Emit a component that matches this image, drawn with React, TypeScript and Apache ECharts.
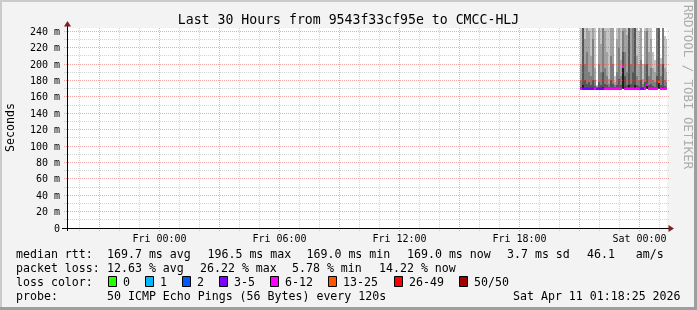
import React, { useEffect, useRef } from "react";
import * as echarts from "echarts";

// ---------- data ----------
const titleText = "Last 30 Hours from 9543f33cf95e to CMCC-HLJ";
// x axis in hours since Thu 00:00
const xMin = 19.375;
const xMax = 49.375;
const yMin = 0;
const yMax = 244;

const xLabelHours = [24, 30, 36, 42, 48];
const xLabelTexts = ["Fri 00:00", "Fri 06:00", "Fri 12:00", "Fri 18:00", "Sat 00:00"];
const xMajorHours = [21, 24, 27, 30, 33, 36, 39, 42, 45, 48];
const xMinorHours = [20, 22, 23, 25, 26, 28, 29, 31, 32, 34, 35, 37, 38, 40, 41, 43, 44, 46, 47, 49];
const yMajorMs = [0, 20, 40, 60, 80, 100, 120, 140, 160, 180, 200, 220, 240];
const yMinorMs = [10, 30, 50, 70, 90, 110, 130, 150, 170, 190, 210, 230];

// 6-minute samples (hours since Thu 00:00)
const sampleHours = [
  45.0, 45.1, 45.2, 45.3, 45.4, 45.5, 45.6, 45.7, 45.8, 45.9,
  46.0, 46.1, 46.2, 46.3, 46.4, 46.5, 46.6, 46.7, 46.8, 46.9,
  47.0, 47.1, 47.2, 47.3, 47.4, 47.5, 47.6, 47.7, 47.8, 47.9,
  48.0, 48.1, 48.2, 48.3, 48.4, 48.5, 48.6, 48.7, 48.8, 48.9,
  49.0, 49.1, 49.2, 49.3,
];
const medianMs = [
  169.4, 169.3, 169.4, 169.3, 169.5, 169.3, 169.4, 169.3, 169.2, 169.4,
  169.3, 169.5, 169.4, 169.3, 169.2, 169.4, 169.3, 169.2, 169.4, 169.5,
  169.3, 196.5, 169.6, 169.4, 169.8, 169.3, 169.5, 169.7, 169.3, 169.2,
  169.4, 169.2, 169.3, 174.0, 169.4, 169.3, 169.2, 169.2, 169.5, 178.0,
  169.3, 169.6, 169.2, 169.0,
];
const lostPings = [
  7, 4, 4, 3, 5, 4, 3, 8, 4, 5,
  4, 3, 7, 6, 8, 7, 9, 6, 7, 8,
  6, 7, 9, 8, 7, 6, 8, 7, 6, 9,
  4, 5, 8, 7, 6, 8, 7, 9, 10, 13,
  7, 8, 6, 7,
];
const pingMin = [
  169.0, 169.0, 169.0, 169.0, 169.0, 169.0, 169.0, 169.0, 169.0, 169.0,
  169.0, 169.0, 169.0, 169.0, 169.0, 169.0, 169.0, 169.0, 169.0, 169.0,
  169.0, 169.0, 169.0, 169.0, 169.0, 169.0, 169.0, 169.0, 169.0, 169.0,
  169.0, 169.0, 169.0, 169.0, 169.0, 169.0, 169.0, 169.0, 169.0, 169.0,
  169.0, 169.0, 169.0, 169.0,
];
const smokeP0 = [
  170, 175, 171, 170, 171, 170, 170, 170, 170, 171,
  170, 172, 170, 170, 170, 171, 170, 170, 170, 171,
  170, 198, 172, 170, 175, 170, 171, 174, 170, 170,
  171, 170, 170, 176, 170, 170, 170, 170, 171, 180,
  170, 172, 170, 170,
];
const smokeP1 = [
  172, 250, 180, 176, 178, 174, 180, 173, 171, 178,
  175, 190, 176, 174, 172, 180, 176, 172, 175, 182,
  174, 215, 185, 175, 250, 176, 190, 250, 175, 173,
  180, 172, 178, 200, 174, 176, 173, 172, 185, 250,
  174, 200, 173, 172,
];
const smokeP2 = [
  180, 250, 200, 215, 190, 185, 230, 180, 172, 200,
  190, 250, 195, 185, 176, 210, 200, 174, 190, 220,
  185, 240, 215, 190, 250, 200, 250, 250, 185, 180,
  205, 176, 200, 240, 185, 195, 180, 178, 250, 250,
  185, 250, 180, 178,
];
const smokeP3 = [
  200, 250, 230, 250, 240, 210, 250, 195, 173, 250,
  225, 260, 240, 215, 182, 250, 250, 178, 230, 250,
  205, 250, 250, 235, 260, 250, 260, 260, 210, 200,
  250, 182, 240, 250, 215, 230, 195, 190, 260, 260,
  200, 260, 195, 190,
];
const smokeMax = [
  250, 260, 250, 260, 260, 250, 260, 250, 175, 260,
  250, 260, 250, 250, 250, 260, 250, 185, 250, 260,
  250, 260, 260, 250, 260, 250, 260, 260, 250, 240,
  260, 200, 250, 260, 245, 250, 215, 205, 260, 260,
  208, 260, 234, 230,
];

const lossColors = ["#26ff00", "#00b8ff", "#0059ff", "#7e00ff", "#ff00ff", "#ff5500", "#ff0000", "#a00000"];
const lossLabels = ["0", "1", "2", "3-5", "6-12", "13-25", "26-49", "50/50"];
const lossUpper = [0, 1, 2, 5, 12, 25, 49, 50];

const rttStats = ["169.7 ms avg", "196.5 ms max", "169.0 ms min", "169.0 ms now", "3.7 ms sd", "46.1   am/s"];
const lossStats = ["12.63 % avg", "26.22 % max", "5.78 % min", "14.22 % now"];
const probeText = "50 ICMP Echo Pings (56 Bytes) every 120s";
const dateText = "Sat Apr 11 01:18:25 2026";

// ---------- layout / style ----------
const W = 697;
const H = 310;
const MONO = "DejaVu Sans Mono";
const smokeColors = ["#1e1e1e", "#555555", "#7e7e7e", "#a2a2a2", "#c4c4c4"];
const rttX = [107, 207.5, 306.5, 407, 507, 587];
const lossX = [107, 200, 292, 379];
const boxX = [108, 145, 182, 219, 270, 328, 394, 459];

function lossColor(n: number) {
  for (let k = 0; k < lossUpper.length; k++) if (n <= lossUpper[k]) return lossColors[k];
  return lossColors[lossColors.length - 1];
}

export default function App() {
  const ref = useRef<HTMLDivElement>(null);
  useEffect(() => {
    if (!ref.current) return;
    const chart = echarts.init(ref.current, undefined, { renderer: "svg" });

    const legendFont = `11.6px "${MONO}"`;
    const graphics: any[] = [];
    // background + frame
    graphics.push({ type: "rect", z: -10, shape: { x: 0, y: 0, width: W, height: H }, style: { fill: "#F3F3F3" }, silent: true });
    graphics.push({ type: "rect", z: -9, shape: { x: 0, y: 0, width: W, height: 2 }, style: { fill: "#CBCBCB" } });
    graphics.push({ type: "rect", z: -9, shape: { x: 0, y: 0, width: 2, height: H }, style: { fill: "#CBCBCB" } });
    graphics.push({ type: "rect", z: -9, shape: { x: W - 3, y: 0, width: 3, height: H }, style: { fill: "#9E9E9E" } });
    graphics.push({ type: "rect", z: -9, shape: { x: 0, y: H - 3, width: W, height: 3 }, style: { fill: "#9E9E9E" } });
    // canvas
    graphics.push({ type: "rect", z: -8, shape: { x: 67, y: 28, width: 600, height: 200 }, style: { fill: "#FFFFFF" } });
    // title
    graphics.push({ type: "text", x: W / 2, y: 19, style: { text: titleText, font: `13.2px "${MONO}"`, fill: "#000", align: "center", verticalAlign: "middle" } });
    // y name
    graphics.push({ type: "text", x: 10, y: 127.5, rotation: Math.PI / 2, style: { text: "Seconds", font: legendFont, fill: "#000", align: "center", verticalAlign: "middle" } });
    // watermark
    graphics.push({ type: "text", x: 688, y: 5, rotation: -Math.PI / 2, style: { text: "RRDTOOL / TOBI OETIKER", font: `12.4px "${MONO}"`, fill: "#ACACAC", align: "left", verticalAlign: "middle" } });
    // axis extensions + arrows
    graphics.push({ type: "line", z: 20, shape: { x1: 62, y1: 228.5, x2: 669, y2: 228.5 }, style: { stroke: "#000", lineWidth: 1 } });
    graphics.push({ type: "line", z: 20, shape: { x1: 67.5, y1: 231, x2: 67.5, y2: 26 }, style: { stroke: "#000", lineWidth: 1 } });
    graphics.push({ type: "polygon", z: 21, shape: { points: [[64, 26.5], [71, 26.5], [67.5, 21]] }, style: { fill: "#7F1F1F" } });
    graphics.push({ type: "polygon", z: 21, shape: { points: [[668.5, 225], [668.5, 232], [674, 228.5]] }, style: { fill: "#7F1F1F" } });

    // legend rows
    const rows = [254, 268, 282, 296];
    graphics.push({ type: "text", x: 16, y: rows[0], style: { text: "median rtt:", font: legendFont, fill: "#000", verticalAlign: "middle" } });
    rttStats.forEach((s, i) => graphics.push({ type: "text", x: rttX[i], y: rows[0], style: { text: s, font: legendFont, fill: "#000", verticalAlign: "middle" } }));
    graphics.push({ type: "text", x: 16, y: rows[1], style: { text: "packet loss:", font: legendFont, fill: "#000", verticalAlign: "middle" } });
    lossStats.forEach((s, i) => graphics.push({ type: "text", x: lossX[i], y: rows[1], style: { text: s, font: legendFont, fill: "#000", verticalAlign: "middle" } }));
    graphics.push({ type: "text", x: 16, y: rows[2], style: { text: "loss color:", font: legendFont, fill: "#000", verticalAlign: "middle" } });
    lossLabels.forEach((s, i) => {
      graphics.push({ type: "rect", shape: { x: boxX[i] + 0.5, y: rows[2] - 5.5, width: 8, height: 10 }, style: { fill: lossColors[i], stroke: "#000", lineWidth: 1 } });
      graphics.push({ type: "text", x: boxX[i] + 15, y: rows[2], style: { text: s, font: legendFont, fill: "#000", verticalAlign: "middle" } });
    });
    graphics.push({ type: "text", x: 16, y: rows[3], style: { text: "probe:", font: legendFont, fill: "#000", verticalAlign: "middle" } });
    graphics.push({ type: "text", x: 107, y: rows[3], style: { text: probeText, font: legendFont, fill: "#000", verticalAlign: "middle" } });
    graphics.push({ type: "text", x: 513, y: rows[3], style: { text: dateText, font: legendFont, fill: "#000", verticalAlign: "middle" } });

    const smokeData = sampleHours.map((h, i) => [h, pingMin[i], smokeP0[i], smokeP1[i], smokeP2[i], smokeP3[i], smokeMax[i]]);
    const medianData = sampleHours.map((h, i) => [h, medianMs[i], lostPings[i]]);
    const gridData: number[][] = [];
    xMinorHours.forEach((h) => gridData.push([h, 0, 0]));
    yMinorMs.forEach((v) => gridData.push([xMin, v, 1]));
    xMajorHours.forEach((h) => gridData.push([h, 0, 2]));
    yMajorMs.forEach((v) => { if (v > 0) gridData.push([xMin, v, 3]); });

    const option: any = {
      animation: false,
      backgroundColor: "transparent",
      grid: { left: 67, top: 28, width: 600, height: 200, outerBoundsMode: "none" },
      xAxis: {
        type: "value", min: xMin, max: xMax,
        axisLine: { show: false }, axisTick: { show: false }, splitLine: { show: false },
        axisLabel: {
          customValues: xLabelHours, margin: 5, fontFamily: MONO, fontSize: 10, color: "#000",
          formatter: (v: number) => { const k = xLabelHours.indexOf(Math.round(v)); return k >= 0 ? xLabelTexts[k] : ""; },
        },
      },
      yAxis: {
        type: "value", min: yMin, max: yMax,
        axisLine: { show: false }, axisTick: { show: false }, splitLine: { show: false },
        axisLabel: {
          customValues: yMajorMs, margin: 7, fontFamily: MONO, fontSize: 10, color: "#000",
          formatter: (v: number) => (v === 0 ? "0" : `${v} m`),
        },
      },
      graphic: graphics,
      series: [
        {
          type: "custom", name: "smoke", z: 1, data: smokeData, clip: false,
          renderItem: (params: any, api: any) => {
            const h = api.value(0);
            const x0 = Math.round(api.coord([h, 0])[0]);
            const x1 = Math.round(api.coord([Math.min(h + 0.1, xMax), 0])[0]);
            const children: any[] = [];
            for (let b = 0; b < 5; b++) {
              const lo = Math.min(api.value(1 + b), yMax);
              const hi = Math.min(api.value(2 + b), yMax);
              if (hi <= lo) continue;
              const yLo = Math.round(api.coord([h, lo])[1]);
              const yHi = Math.round(api.coord([h, hi])[1]);
              if (yLo - yHi <= 0) continue;
              children.push({ type: "rect", shape: { x: x0, y: yHi, width: x1 - x0, height: yLo - yHi }, style: { fill: smokeColors[b] } });
            }
            return { type: "group", children };
          },
        },
        {
          type: "custom", name: "grid", z: 2, data: gridData, clip: false, silent: true,
          renderItem: (params: any, api: any) => {
            const kind = api.value(2);
            const color = kind >= 2 ? "rgba(232,64,64,0.45)" : "rgba(143,143,143,0.4)";
            if (kind === 0 || kind === 2) {
              const h = api.value(0);
              const x = Math.floor(api.coord([h, 0])[0]) + 0.5;
              const yb = api.coord([h, yMin])[1];
              const yt = api.coord([h, yMax])[1];
              return { type: "line", shape: { x1: x, y1: yb + 3, x2: x, y2: yt }, style: { stroke: color, lineWidth: 1, lineDash: [1, 1] } };
            }
            const v = api.value(1);
            const y = Math.floor(api.coord([xMin, v])[1]) + 0.5;
            const xl = api.coord([xMin, v])[0];
            const xr = api.coord([xMax, v])[0];
            return { type: "line", shape: { x1: xl - 3, y1: y, x2: xr + 2, y2: y }, style: { stroke: color, lineWidth: 1, lineDash: [1, 1] } };
          },
        },
        {
          type: "custom", name: "median", z: 3, data: medianData, clip: false,
          renderItem: (params: any, api: any) => {
            const h = api.value(0);
            const x0 = Math.round(api.coord([h, 0])[0]);
            const x1 = Math.round(api.coord([Math.min(h + 0.1, xMax), 0])[0]);
            const y = api.coord([h, api.value(1)])[1];
            return { type: "rect", shape: { x: x0, y: Math.round(y) - 1.5, width: x1 - x0, height: 2.5 }, style: { fill: lossColor(api.value(2)) } };
          },
        },
      ],
    };
    chart.setOption(option);
    return () => chart.dispose();
  }, []);
  return <div ref={ref} style={{ position: "fixed", left: 0, top: 0, width: W, height: H }} />;
}
